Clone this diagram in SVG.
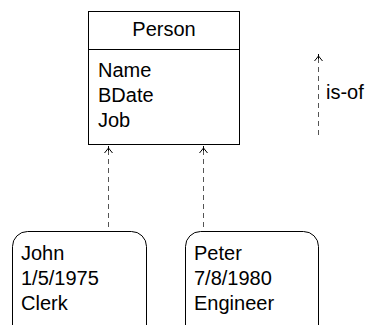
<svg xmlns="http://www.w3.org/2000/svg" width="369" height="325" viewBox="0 0 369 325">
  <style>
    text { font-family: "Liberation Sans", Arial, sans-serif; font-size: 20px; fill: #000; }
    .box { fill: #fff; stroke: #000; stroke-width: 1; }
    .link { fill: none; stroke: #555; stroke-width: 1; stroke-dasharray: 5 4; }
  </style>
  <defs>
    <!-- open chevron head with a short tip, drawn along +x so orient="auto" turns it to the line -->
    <marker id="openArrow" markerWidth="12" markerHeight="12" refX="10" refY="5" orient="auto" markerUnits="userSpaceOnUse">
      <path d="M3,1 L8,5 L3,9 M5,5 L10,5" fill="none" stroke="#000" stroke-width="1"/>
    </marker>
  </defs>
  <rect width="369" height="325" fill="#fff"/>

  <g id="person">
    <rect class="box" x="88.5" y="11.5" width="151" height="133"/>
    <line x1="88.5" y1="49.5" x2="239.5" y2="49.5" stroke="#000"/>
    <text x="164" y="36" text-anchor="middle">Person</text>
    <text x="98" y="77">Name</text>
    <text x="98" y="102">BDate</text>
    <text x="98" y="127">Job</text>
  </g>

  <g id="john">
    <rect class="box" x="12.5" y="231.5" width="134" height="110" rx="15"/>
    <text x="21" y="260">John</text>
    <text x="21" y="285">1/5/1975</text>
    <text x="21" y="310">Clerk</text>
  </g>

  <g id="peter">
    <rect class="box" x="185.5" y="231.5" width="133" height="110" rx="15"/>
    <text x="194" y="260">Peter</text>
    <text x="194" y="285">7/8/1980</text>
    <text x="194" y="310">Engineer</text>
  </g>

  <g id="connectors">
    <line class="link" x1="108.5" y1="227" x2="108.5" y2="146" marker-end="url(#openArrow)"/>
    <line class="link" x1="203.5" y1="227" x2="203.5" y2="146" marker-end="url(#openArrow)"/>
  </g>

  <g id="legend">
    <line class="link" x1="318.5" y1="135" x2="318.5" y2="54" marker-end="url(#openArrow)"/>
    <text x="326" y="99">is-of</text>
  </g>
</svg>
